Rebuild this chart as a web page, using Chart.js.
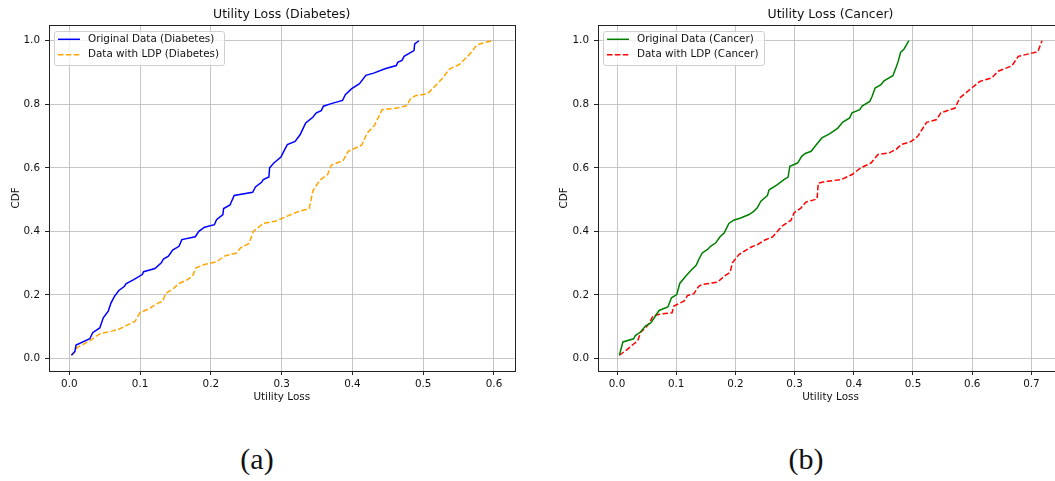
<!DOCTYPE html>
<html>
<head>
<meta charset="utf-8">
<title>Utility Loss CDF</title>
<script src="https://cdn.jsdelivr.net/npm/chart.js@4.4.1/dist/chart.umd.min.js"></script>
<style>
  html, body { margin: 0; padding: 0; background: #fff; }
  body { width: 1055px; height: 481px; overflow: hidden; position: relative; }
  .panel { position: absolute; top: 0; height: 420px; }
  #panelA { left: 0; width: 530px; }
  #panelB { left: 550px; width: 529px; }
  .caption {
    position: absolute; top: 444px; line-height: 30px;
    font-family: "Liberation Serif", serif; font-size: 30px; color: #111;
    transform: translateX(-50%);
  }
</style>
</head>
<body>
<div class="panel" id="panelA"><canvas id="chartA"></canvas></div>
<div class="panel" id="panelB"><canvas id="chartB"></canvas></div>
<div class="caption" style="left:257px">(a)</div>
<div class="caption" style="left:806px">(b)</div>

<script>
// Diabetes - datos originales (utility loss, CDF)
const diabOrigX = [0.003, 0.008, 0.0095, 0.029, 0.033, 0.043, 0.048, 0.055, 0.059, 0.064,
  0.070, 0.078, 0.080, 0.091, 0.103, 0.105, 0.121, 0.130, 0.133, 0.140,
  0.146, 0.155, 0.159, 0.178, 0.183, 0.191, 0.205, 0.208, 0.217, 0.218,
  0.227, 0.233, 0.259, 0.263, 0.272, 0.274, 0.282, 0.283, 0.289, 0.299,
  0.303, 0.308, 0.319, 0.326, 0.329, 0.334, 0.344, 0.349, 0.356, 0.359,
  0.370, 0.386, 0.390, 0.399, 0.410, 0.419, 0.430, 0.446, 0.462, 0.464,
  0.470, 0.473, 0.487, 0.488, 0.494];
const diabOrigY = [0.010, 0.023, 0.042, 0.062, 0.081, 0.096, 0.128, 0.149, 0.175, 0.196,
  0.214, 0.227, 0.235, 0.248, 0.264, 0.273, 0.283, 0.301, 0.313, 0.322,
  0.341, 0.353, 0.374, 0.383, 0.400, 0.413, 0.421, 0.437, 0.453, 0.472,
  0.483, 0.513, 0.523, 0.540, 0.555, 0.563, 0.571, 0.600, 0.615, 0.634,
  0.652, 0.673, 0.683, 0.704, 0.718, 0.741, 0.759, 0.773, 0.780, 0.794,
  0.802, 0.812, 0.830, 0.849, 0.865, 0.891, 0.898, 0.912, 0.922, 0.932,
  0.938, 0.951, 0.969, 0.990, 1.000];

// Diabetes - datos con LDP
const diabLdpX = [0.003, 0.008, 0.011, 0.019, 0.029, 0.038, 0.045, 0.060, 0.069, 0.081,
  0.093, 0.097, 0.100, 0.112, 0.126, 0.132, 0.136, 0.148, 0.155, 0.167,
  0.174, 0.179, 0.191, 0.208, 0.219, 0.236, 0.242, 0.254, 0.260, 0.269,
  0.274, 0.291, 0.308, 0.322, 0.339, 0.344, 0.348, 0.355, 0.365, 0.370,
  0.387, 0.394, 0.413, 0.421, 0.431, 0.442, 0.463, 0.477, 0.482, 0.489,
  0.506, 0.518, 0.527, 0.537, 0.551, 0.566, 0.576, 0.589, 0.598];
const diabLdpY = [0.010, 0.020, 0.034, 0.044, 0.055, 0.070, 0.079, 0.086, 0.091, 0.104,
  0.117, 0.133, 0.144, 0.156, 0.175, 0.180, 0.204, 0.222, 0.236, 0.248,
  0.259, 0.285, 0.296, 0.304, 0.322, 0.332, 0.348, 0.362, 0.400, 0.416,
  0.425, 0.432, 0.448, 0.461, 0.472, 0.526, 0.542, 0.563, 0.579, 0.608,
  0.623, 0.652, 0.671, 0.710, 0.733, 0.783, 0.788, 0.796, 0.817, 0.827,
  0.833, 0.860, 0.881, 0.911, 0.925, 0.958, 0.987, 0.995, 1.000];

// Cancer - datos originales
const cancerOrigX = [0.004, 0.010, 0.028, 0.031, 0.040, 0.048, 0.057, 0.063, 0.071, 0.086,
  0.092, 0.101, 0.106, 0.116, 0.124, 0.134, 0.138, 0.144, 0.153, 0.158,
  0.167, 0.174, 0.181, 0.189, 0.197, 0.209, 0.223, 0.231, 0.237, 0.243,
  0.254, 0.257, 0.271, 0.282, 0.289, 0.292, 0.305, 0.312, 0.318, 0.328,
  0.336, 0.346, 0.359, 0.373, 0.381, 0.393, 0.397, 0.410, 0.414, 0.427,
  0.431, 0.436, 0.446, 0.451, 0.466, 0.472, 0.475, 0.479, 0.485, 0.493];
const cancerOrigY = [0.010, 0.052, 0.062, 0.072, 0.084, 0.102, 0.112, 0.128, 0.151, 0.162,
  0.191, 0.201, 0.236, 0.259, 0.275, 0.294, 0.311, 0.332, 0.343, 0.353,
  0.364, 0.383, 0.395, 0.425, 0.435, 0.442, 0.453, 0.463, 0.474, 0.495,
  0.513, 0.531, 0.547, 0.563, 0.571, 0.605, 0.615, 0.636, 0.645, 0.652,
  0.671, 0.694, 0.707, 0.725, 0.743, 0.757, 0.773, 0.783, 0.794, 0.809,
  0.825, 0.851, 0.862, 0.874, 0.890, 0.919, 0.935, 0.963, 0.974, 1.000];

// Cancer - datos con LDP
const cancerLdpX = [0.004, 0.017, 0.027, 0.035, 0.040, 0.048, 0.055, 0.061, 0.075, 0.093,
  0.096, 0.113, 0.119, 0.130, 0.138, 0.144, 0.170, 0.181, 0.191, 0.195,
  0.206, 0.226, 0.237, 0.249, 0.263, 0.271, 0.280, 0.294, 0.299, 0.311,
  0.319, 0.338, 0.340, 0.356, 0.379, 0.397, 0.412, 0.429, 0.441, 0.460,
  0.472, 0.480, 0.497, 0.508, 0.523, 0.540, 0.547, 0.571, 0.579, 0.599,
  0.613, 0.633, 0.644, 0.667, 0.678, 0.701, 0.711, 0.718];
const cancerLdpY = [0.010, 0.028, 0.044, 0.055, 0.083, 0.096, 0.112, 0.135, 0.140, 0.144,
  0.165, 0.180, 0.198, 0.204, 0.227, 0.233, 0.240, 0.259, 0.271, 0.301,
  0.327, 0.350, 0.358, 0.372, 0.383, 0.400, 0.418, 0.435, 0.458, 0.474,
  0.492, 0.502, 0.552, 0.558, 0.563, 0.579, 0.600, 0.615, 0.642, 0.647,
  0.659, 0.673, 0.683, 0.699, 0.743, 0.752, 0.773, 0.788, 0.820, 0.851,
  0.872, 0.883, 0.904, 0.921, 0.951, 0.961, 0.966, 1.000];

// Marcas de los ejes
const diabXTicks = [0.0, 0.1, 0.2, 0.3, 0.4, 0.5, 0.6];
const cancerXTicks = [0.0, 0.1, 0.2, 0.3, 0.4, 0.5, 0.6, 0.7];
const cdfTicks = [0.0, 0.2, 0.4, 0.6, 0.8, 1.0];

const FONT = '"DejaVu Sans", sans-serif';
const TEXT = '#111';
const SMALL = 10.4;

function toPoints(xs, ys) {
  return xs.map((x, i) => ({ x: x, y: ys[i] }));
}

// Titulo centrado sobre el area del grafico
const panelTitle = {
  id: 'panelTitle',
  afterDraw(chart, args, opts) {
    const { ctx, chartArea: a } = chart;
    ctx.save();
    ctx.font = '12.5px ' + FONT;
    ctx.fillStyle = TEXT;
    ctx.textAlign = 'center';
    ctx.textBaseline = 'middle';
    ctx.fillText(opts.text, (a.left + a.right) / 2, a.top - 10.5);
    ctx.restore();
  }
};

// Marco completo alrededor de los ejes (estilo matplotlib)
const axesFrame = {
  id: 'axesFrame',
  afterDatasetsDraw(chart) {
    const { ctx, chartArea: a } = chart;
    ctx.save();
    ctx.strokeStyle = '#222';
    ctx.lineWidth = 1;
    ctx.strokeRect(Math.round(a.left) + 0.5, Math.round(a.top) + 0.5,
      Math.round(a.right - a.left), Math.round(a.bottom - a.top));
    ctx.restore();
  }
};

// Leyenda dentro del area, arriba a la izquierda
const insideLegend = {
  id: 'insideLegend',
  afterDraw(chart) {
    const { ctx, chartArea: a } = chart;
    const items = chart.data.datasets;
    ctx.save();
    ctx.font = SMALL + 'px ' + FONT;
    const textX = a.left + 39;
    const maxW = Math.max(...items.map(d => ctx.measureText(d.label).width));
    const x0 = a.left + 5, y0 = a.top + 5.5;
    const w = textX + maxW + 5 - x0, h = 34;
    ctx.beginPath();
    ctx.roundRect(Math.round(x0) + 0.5, Math.round(y0) + 0.5, Math.round(w), h, 2.5);
    ctx.fillStyle = 'rgba(255,255,255,0.8)';
    ctx.fill();
    ctx.strokeStyle = '#d0d0d0';
    ctx.lineWidth = 1;
    ctx.stroke();
    items.forEach((d, i) => {
      const y = a.top + 14.3 + i * 15.4;
      ctx.beginPath();
      ctx.setLineDash(d.borderDash || []);
      ctx.strokeStyle = d.borderColor;
      ctx.lineWidth = 1.5;
      ctx.moveTo(a.left + 9, y);
      ctx.lineTo(a.left + 31, y);
      ctx.stroke();
      ctx.setLineDash([]);
      ctx.fillStyle = TEXT;
      ctx.textBaseline = 'middle';
      ctx.fillText(d.label, textX, y);
    });
    ctx.restore();
  }
};

function buildChart(canvasId, cfg) {
  const ctx = document.getElementById(canvasId).getContext('2d');
  return new Chart(ctx, {
    type: 'line',
    data: {
      datasets: [{
        label: cfg.origLabel,
        data: toPoints(cfg.origX, cfg.origY),
        borderColor: cfg.origColor,
        borderWidth: 1.5,
        pointRadius: 0,
        tension: 0,
        fill: false
      }, {
        label: cfg.ldpLabel,
        data: toPoints(cfg.ldpX, cfg.ldpY),
        borderColor: cfg.ldpColor,
        borderDash: [5.5, 2.4],
        borderWidth: 1.5,
        pointRadius: 0,
        tension: 0,
        fill: false
      }]
    },
    options: {
      responsive: true,
      maintainAspectRatio: false,
      animation: false,
      layout: { padding: { top: 25, left: 0, right: cfg.rightPad, bottom: 0 } },
      scales: {
        x: {
          type: 'linear',
          min: cfg.xMin,
          max: cfg.xMax,
          afterBuildTicks: s => { s.ticks = cfg.xTicks.map(v => ({ value: v })); },
          afterFit: s => { s.height = 49; },
          ticks: { callback: v => v.toFixed(1), font: { size: SMALL, family: FONT }, color: TEXT, padding: 3, maxRotation: 0 },
          grid: { color: '#b8b8b8', lineWidth: 0.8, tickColor: '#222', tickLength: 4, tickWidth: 1 },
          border: { display: false },
          title: { display: true, text: 'Utility Loss', font: { size: SMALL, family: FONT }, color: TEXT, padding: { top: 0, bottom: 16 } }
        },
        y: {
          type: 'linear',
          min: -0.0395,
          max: 1.0495,
          afterBuildTicks: s => { s.ticks = cdfTicks.map(v => ({ value: v })); },
          afterFit: s => { s.width = cfg.yWidth; },
          ticks: { callback: v => v.toFixed(1), font: { size: SMALL, family: FONT }, color: TEXT, padding: 5 },
          grid: { color: '#b8b8b8', lineWidth: 0.8, tickColor: '#222', tickLength: 4, tickWidth: 1 },
          border: { display: false },
          title: { display: true, text: 'CDF', font: { size: SMALL, family: FONT }, color: TEXT, padding: { top: cfg.yTitlePad, bottom: 0 } }
        }
      },
      plugins: {
        legend: { display: false },
        title: { display: false },
        tooltip: { enabled: false },
        panelTitle: { text: cfg.title }
      }
    },
    plugins: [axesFrame, insideLegend, panelTitle]
  });
}

document.addEventListener('DOMContentLoaded', function() {
  buildChart('chartA', {
    title: 'Utility Loss (Diabetes)',
    origLabel: 'Original Data (Diabetes)',
    ldpLabel: 'Data with LDP (Diabetes)',
    origX: diabOrigX, origY: diabOrigY,
    ldpX: diabLdpX, ldpY: diabLdpY,
    origColor: '#0000ff', ldpColor: '#ffa500',
    xMin: -0.0287, xMax: 0.629, xTicks: diabXTicks,
    yWidth: 49, yTitlePad: 10, rightPad: 15.5
  });
  buildChart('chartB', {
    title: 'Utility Loss (Cancer)',
    origLabel: 'Original Data (Cancer)',
    ldpLabel: 'Data with LDP (Cancer)',
    origX: cancerOrigX, origY: cancerOrigY,
    ldpX: cancerLdpX, ldpY: cancerLdpY,
    origColor: '#008000', ldpColor: '#ff0000',
    xMin: -0.0321, xMax: 0.7534, xTicks: cancerXTicks,
    yWidth: 48, yTitlePad: 8, rightPad: 16
  });
});
</script>
</body>
</html>
